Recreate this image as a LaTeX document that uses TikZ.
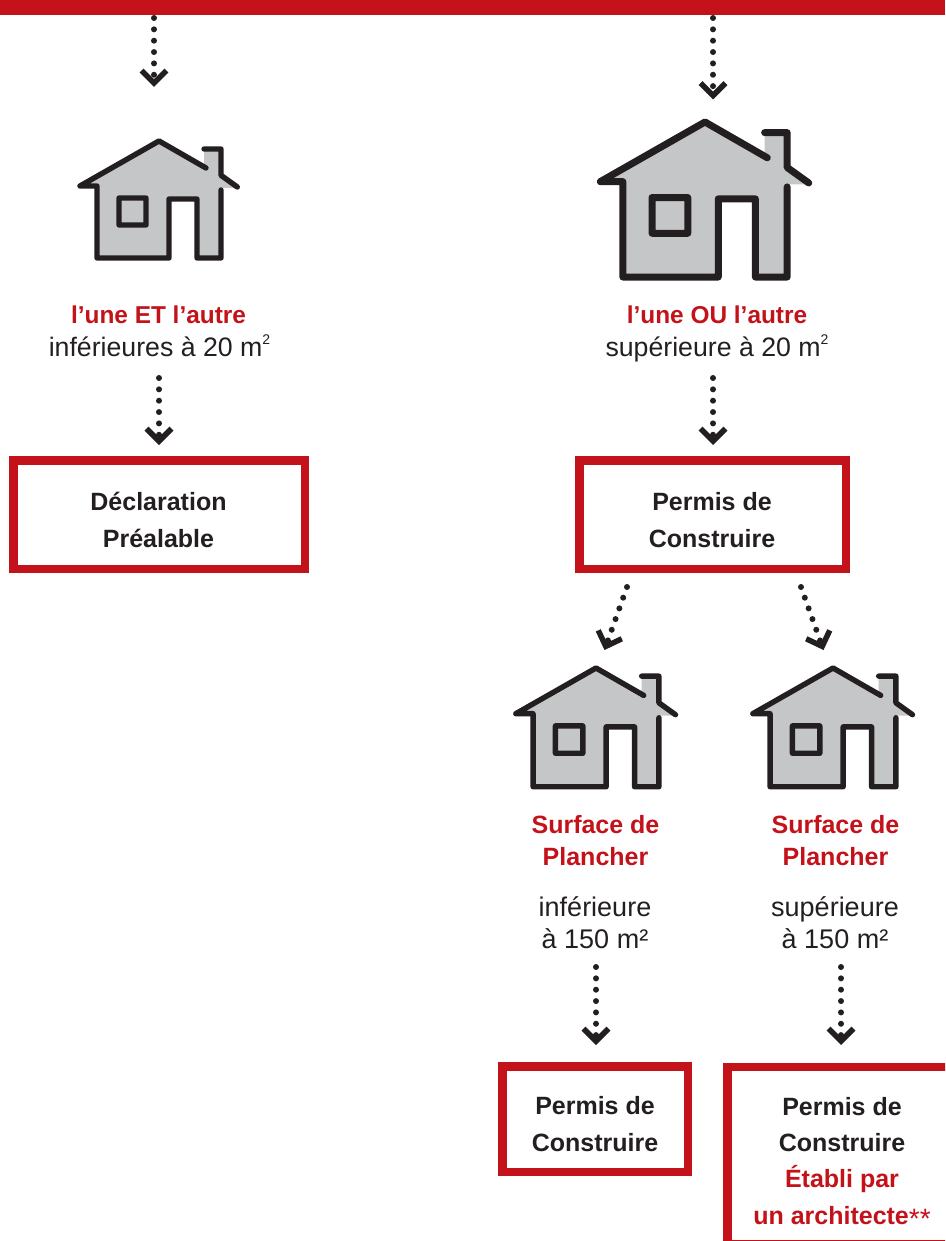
\documentclass[tikz,border=0pt]{standalone}
\usepackage{fontspec}
\setmainfont{Liberation Sans}
\usetikzlibrary{arrows.meta}
\definecolor{rouge}{HTML}{C4121A}
\definecolor{encre}{HTML}{231F20}
\definecolor{gris}{HTML}{C5C6C8}
\newcommand{\maison}[4]{% x, y, scale, line width
  \begin{scope}[shift={(#1,#2)},scale=#3]
    \fill[gris] (0,0) -- (45,26) -- (45,8) -- (62,8) -- (62,34) -- (79,47) -- (62,47) -- (62,117) -- (38,117) -- (38,58) -- (10,58) -- (10,117) -- (-62,117) -- (-62,45) -- (-79,45) -- cycle;
    \draw[encre,line width=#4,line join=round,line cap=round]
      (47,27) -- (0,0) -- (-79,45) -- (-62,45) -- (-62,117) -- (10,117) -- (10,58) -- (38,58) -- (38,117) -- (62,117) -- (62,49)
      (45,8) -- (62,8) -- (62,34.3) -- (78.3,46)
      (-40,57) rectangle (-13,84);
  \end{scope}}
\newcommand{\expo}[1]{\raisebox{0.42em}{\fontsize{14}{14}\selectfont #1}}
\tikzset{
  x=1pt,y=-1pt,
  every node/.style={inner sep=0pt,outer sep=0pt},
  fleche/.style={encre,line width=6pt,line cap=round,dash pattern=on 0pt off 11.35pt,
    -{Straight Barb[length=12.5pt,width=25pt,line width=5.5pt,sep=0pt]}},
  cadre/.style={draw=rouge,line width=8.5pt,fill=white,minimum width=#1},
  texte/.style={font=\fontsize{26.7}{32}\selectfont,text=encre,align=center,anchor=base},
  titre/.style={font=\fontsize{25}{32}\selectfont\bfseries,text=rouge,align=center,anchor=base},
  gras/.style={font=\fontsize{25}{36.7}\selectfont\bfseries,text=encre,align=center,anchor=base},
}
\begin{document}
\begin{tikzpicture}
\useasboundingbox (0,0) rectangle (945,1241);
\clip (0,0) rectangle (945,1241);
\fill[rouge] (0,0) rectangle (945,15);
\maison{159}{141}{1}{5.4pt}
\maison{705}{122}{1.325}{7pt}
\maison{596}{668}{1.015}{5.4pt}
\maison{833}{668}{1.015}{5.4pt}
% labels
\node[titre,font=\fontsize{24.4}{32}\selectfont\bfseries] (t1) at (158.5,323) {l’une ET l’autre};
\node[texte] (s1) at (159.5,356) {inférieures à 20 m\expo{2}};
\node[titre,font=\fontsize{24.4}{32}\selectfont\bfseries] (t2) at (717,323) {l’une OU l’autre};
\node[texte] (s2) at (717,356) {supérieure à 20 m\expo{2}};
\node[titre] (t3) at (595.5,865) {Surface de\\Plancher};
\node[titre] (t4) at (835.5,865) {Surface de\\Plancher};
\node[texte,font=\fontsize{27}{32}\selectfont] (s3) at (595,948) {inférieure\\à 150 m²};
\node[texte,font=\fontsize{27}{32}\selectfont] (s4) at (835,948) {supérieure\\à 150 m²};
% boxes
\node[cadre=291.5pt,minimum height=108.5pt] (b1) at (159,514.5) {};
\node[gras] (l1) at (158.5,547) {Déclaration\\Préalable};
\node[cadre=266.5pt,minimum height=108.5pt] (b2) at (712.5,514.5) {};
\node[gras] (l2) at (712,547) {Permis de\\Construire};
\node[cadre=185.5pt,minimum height=105.5pt] (b3) at (595,1119) {};
\node[gras] (l3) at (595,1151) {Permis de\\Construire};
\node[cadre=240pt,minimum height=177pt] (b4) at (847.5,1155.5) {};
\node[gras,font=\fontsize{25}{36.3}\selectfont\bfseries] (l4) at (842,1224) {Permis de\\Construire\\\textcolor{rouge}{Établi par}\\\textcolor{rouge}{un architecte\raisebox{-4pt}{\fontsize{28}{28}\selectfont\mdseries **}}};
% connectors
\coordinate (a1) at (154,18);  \coordinate (a1e) at (154,87);
\coordinate (a2) at (713,18);  \coordinate (a2e) at (713,99.5);
\coordinate (a3) at (159,378); \coordinate (a3e) at (159,445);
\coordinate (a4) at (713,378); \coordinate (a4e) at (713,445);
\coordinate (a5) at (627,587); \coordinate (a5e) at (604.5,650);
\coordinate (a6) at (801,587); \coordinate (a6e) at (823.5,650);
\coordinate (a7) at (596,967); \coordinate (a7e) at (596,1045);
\coordinate (a8) at (841,967); \coordinate (a8e) at (841,1045);
\foreach \i in {1,...,8}{\draw[fleche] (a\i) -- (a\i e);}
\end{tikzpicture}
\end{document}
